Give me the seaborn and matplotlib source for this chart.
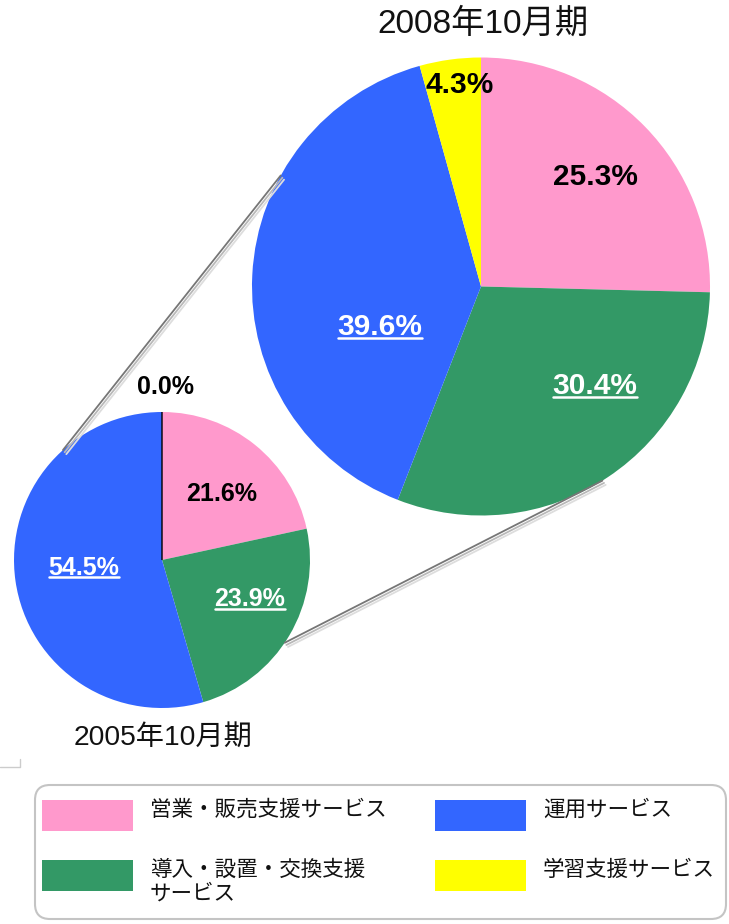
import numpy as np
import pandas as pd
import matplotlib
matplotlib.use("Agg")
import matplotlib.pyplot as plt
import seaborn as sns
from matplotlib.patches import ConnectionPatch, FancyBboxPatch, Rectangle
from matplotlib.lines import Line2D
import matplotlib.patheffects as pe

# ---------------- data ----------------
categories = ["営業・販売支援サービス", "導入・設置・交換支援\nサービス", "運用サービス", "学習支援サービス"]
colors = ["#FF99CC", "#339966", "#3366FF", "#FFFF00"]
values_2005 = [21.6, 23.9, 54.5, 0.0]
values_2008 = [25.3, 30.4, 39.6, 4.3]
title_2005 = "2005年10月期"
title_2008 = "2008年10月期"

# label styling / placement (in pie-radius units)
label_colors = ["black", "white", "white", "black"]
label_underline = [False, True, True, False]
offsets_2008 = [(0.498, 0.491), (0.498, -0.421), (-0.441, -0.164), (-0.092, 0.893)]
offsets_2005 = [(0.405, 0.466), (0.595, -0.250), (-0.527, -0.034), (0.027, 1.189)]

sns.set_theme(style="white")
plt.rcParams['font.family'] = ['Liberation Sans', 'Noto Sans CJK JP', 'DejaVu Sans']

W, H = 729, 924
fig = plt.figure(figsize=(W / 100, H / 100), dpi=100)
fig.patch.set_facecolor("white")

# overlay axes in pixel units (for titles, legend)
ov = fig.add_axes([0, 0, 1, 1], zorder=-1)
ov.set_xlim(0, W)
ov.set_ylim(H, 0)
ov.axis("off")


def pie_axes(cx, cy, r):
    ax = fig.add_axes([(cx - r) / W, (H - cy - r) / H, 2 * r / W, 2 * r / H])
    return ax


ax_big = pie_axes(481, 286.5, 229)
ax_small = pie_axes(162, 560, 148)

underline_texts = []


def draw_pie(ax, values, offsets, fsize):
    wedges, _ = ax.pie(values, colors=colors, startangle=90, counterclock=False,
                       radius=1, wedgeprops=dict(linewidth=0, edgecolor="none"))
    ax.set_xlim(-1, 1)
    ax.set_ylim(-1, 1)
    ax.set_aspect("equal")
    ax.axis("off")
    for v, (dx, dy), c, ul in zip(values, offsets, label_colors, label_underline):
        t = ax.text(dx, dy, f"{v:.1f}%", ha="center", va="center_baseline",
                    fontsize=fsize, fontweight="bold", color=c,
                    family=["Liberation Sans", "DejaVu Sans"])
        if ul:
            underline_texts.append(t)
    return wedges


w_big = draw_pie(ax_big, values_2008, offsets_2008, 21.5)
w_small = draw_pie(ax_small, values_2005, offsets_2005, 18)
# zero-width slice drawn as a thin edge line
for w, v in zip(w_small, values_2005):
    if v == 0:
        w.set_edgecolor("black")
        w.set_linewidth(1.0)

# connector lines between the two pies
shadow = [pe.SimpleLineShadow(offset=(1.2, -1.6), shadow_color="#b8b8b8", alpha=1),
          pe.SimpleLineShadow(offset=(2.4, -3.0), shadow_color="#dddddd", alpha=1),
          pe.Normal()]
for a_small, a_big in [(132, 151), (-34, -58)]:
    ps = (np.cos(np.radians(a_small)), np.sin(np.radians(a_small)))
    pb = (np.cos(np.radians(a_big)), np.sin(np.radians(a_big)))
    con = ConnectionPatch(xyA=ps, coordsA=ax_small.transData,
                          xyB=pb, coordsB=ax_big.transData,
                          color="#767676", lw=1.3)
    con.set_path_effects(shadow)
    fig.add_artist(con)

# titles
ov.text(483, 24, title_2008, ha="center", va="center", fontsize=24, color="#111111")
ov.text(163, 738, title_2005, ha="center", va="center", fontsize=20.3, color="#111111")

# small corner mark
ov.plot([0, 20, 20], [767, 767, 759], color="#cccccc", lw=1)

# legend
box = FancyBboxPatch((35, 785), 691, 134, boxstyle="round,pad=0,rounding_size=15",
                     fc="white", ec="#c4c4c4", lw=1.5)
ov.add_patch(box)
leg_x = [42, 42, 435, 435]
leg_y = [800, 860, 800, 860]
for cat, col, x, y in zip(categories, colors, leg_x, leg_y):
    ov.add_patch(Rectangle((x, y), 91, 31, fc=col, ec="none"))
    ov.text(x + 108, y - 1, cat, ha="left", va="top", fontsize=15.5,
            color="#111111", linespacing=1.12,
            family=["Noto Sans CJK JP", "DejaVu Sans"])

# underline white labels
fig.canvas.draw()
for t in underline_texts:
    bb = t.get_window_extent()
    y = bb.y0 + 3
    fig.add_artist(Line2D([bb.x0, bb.x1], [y, y], transform=None,
                          color=t.get_color(), lw=1.8))

fig.savefig("out.png", dpi=100, facecolor="white")
